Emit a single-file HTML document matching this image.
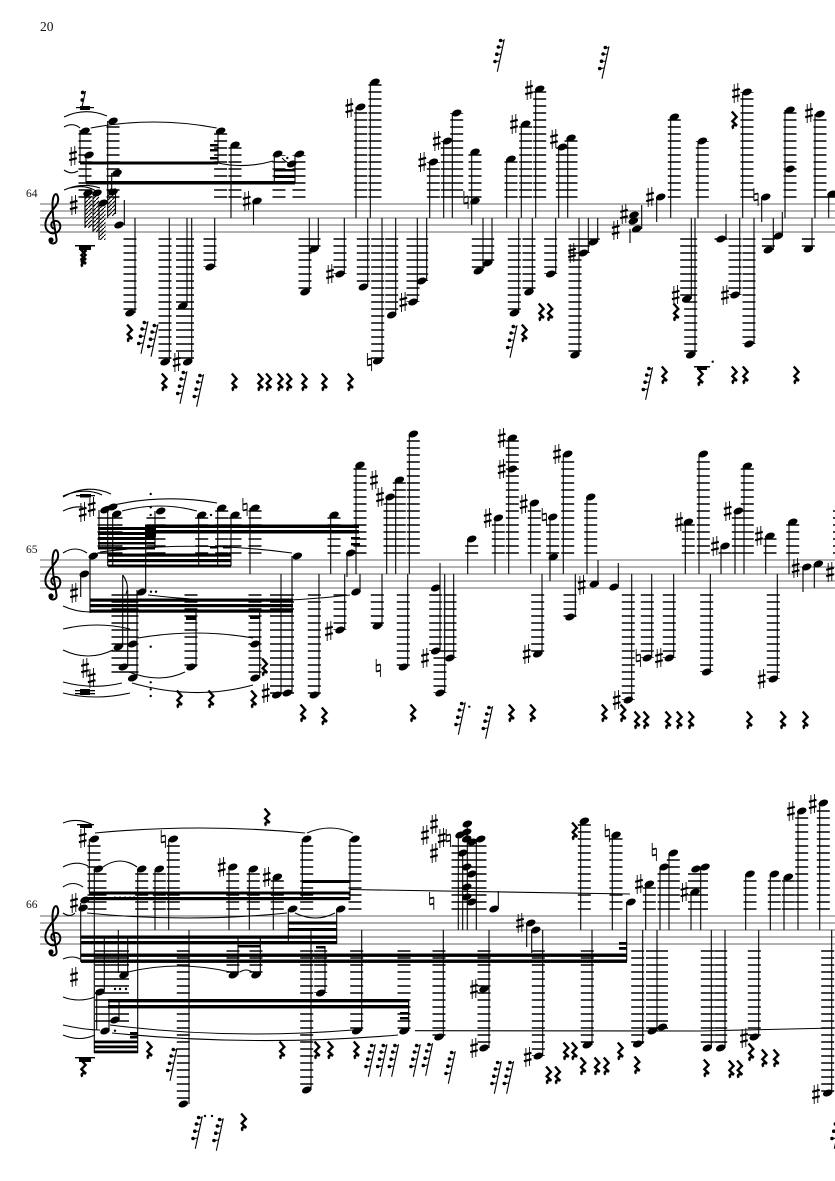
<!DOCTYPE html>
<html><head><meta charset="utf-8"><style>html,body{margin:0;padding:0;background:#fff}svg{display:block}text{font-family:"Liberation Serif",serif;fill:#111}</style></head><body>
<svg xmlns="http://www.w3.org/2000/svg" width="835" height="1181" viewBox="0 0 835 1181">
<defs>
<ellipse id="n" rx="5" ry="3.2" transform="rotate(-22)"/>
<g id="s" stroke="#000" fill="none"><path stroke-width=".9" d="M-1.8-9V10M1.8-10V9"/><path stroke-width="2.1" d="M-3.8-2.2L3.8-4.2M-3.8 4.2L3.8 2.2"/></g>
<g id="h" stroke="#000" fill="none"><path stroke-width=".9" d="M-2.1-9V3.6M2.1-3.6V9"/><path stroke-width="1.7" d="M-2.1-2.6L2.1-3.6M-2.1 3.6L2.1 2.6"/></g>
<path id="q" fill="none" stroke="#000" stroke-width="2.4" d="M-2.2-8.5L2.6-3L-1.6 1.2L3 5.6C0 4.6-2.6 5.6-.6 8.8"/>
<g id="r"><path stroke="#000" stroke-width="1.1" fill="none" d="M5.3-15.7L-1.7 16.7M5-14.5L1.5-13.5M3.5-8L-.5-7.5M1.8-1L-2-.5M.2 6L-3.8 6.7"/><circle cx="1.6" cy="-14.5" r="1.8"/><circle cx="-.6" cy="-8" r="1.8"/><circle cx="-2.2" cy="-.8" r="1.8"/><circle cx="-4" cy="6.5" r="1.8"/></g>
<g id="c"><path fill="none" stroke="#000" stroke-width="2" d="M2 4C-3 4-4-3 1-4C7-5 9 3 4 7C-3 11-9 5-8-2C-7-10 1-16 4-22C6-28 3-33 1-30C-2-26-1-15 0-5L3 14C4 19-3 20-4 16"/><circle cx="-2.5" cy="15" r="2.6"/></g>
<pattern id="p" width="4" height="4" patternUnits="userSpaceOnUse"><path d="M-1 5L5-1" stroke="#000" stroke-width="1.1"/></pattern>
</defs>
<text x="40" y="31" font-size="13.5">20</text>
<text x="26" y="197" font-size="11.5">64</text>
<text x="26" y="553" font-size="11.5">65</text>
<text x="26" y="908" font-size="11.5">66</text>

<path stroke="#666" stroke-width="1.1" fill="none" d="M40 204H835M40 211H835M40 218H835M40 225H835M40 232H835M40 560H835M40 567H835M40 574H835M40 581H835M40 588H835M40 916H835M40 923H835M40 930H835M40 937H835M40 944H835"/>
<use href="#c" x="53.5" y="225"/><use href="#c" x="53.5" y="581"/><use href="#c" x="53.5" y="937"/>

<g stroke="#000" stroke-width="13" stroke-dasharray="1.5 5.5" fill="none">
<path d="M85 197.7V132M113 197.7V122M279 197.7V155M299 197.7V155M235 197.7V147M220.6 197.7V133M360.7 197.7V107M375 197.7V82M433.3 197.7V162M447.3 197.7V141M456.7 197.7V113M475 197.7V152M511 197.7V159M525.7 197.7V124M539.7 197.7V89M562.3 197.7V147M571 197.7V138M674.3 197.7V117M702.3 197.7V141M747 197.7V92M790 197.7V110M820 197.7V114M832 197.7V196"/>
<path d="M130 238.3V313M165 238.3V362M210 238.3V267M305 238.3V292M314 238.3V249M340 238.3V274M363.3 238.3V287M377.7 238.3V361M391.7 238.3V315M413 238.3V302M421.7 238.3V281M478.3 238.3V271M487.7 238.3V263M514.3 238.3V313M529 238.3V292M550.7 238.3V274M583.3 238.3V253M575 238.3V355M593.3 238.3V242M686.7 238.3V299M690.7 238.3V355M721 238.3V240M735 238.3V295M749 238.3V344M768.3 238.3V250M808.3 238.3V249"/>
<path stroke-width="18" d="M185 238.3V362"/>
<path d="M201.7 553.7V517M221.7 553.7V510M235 553.7V517M255 553.7V510M334 553.7V517M360 553.7V467M390 553.7V499M399.3 553.7V482M413.3 553.7V436M471.7 553.7V541M498.3 553.7V520M512.3 553.7V440M534.3 553.7V505M552.7 553.7V519M567.7 553.7V456M590.7 553.7V499M688.3 553.7V524M703.3 553.7V456M725 553.7V548M738.3 553.7V513M747.3 553.7V468M770 553.7V538M792.7 553.7V524"/>
<path stroke-width="25" d="M110 553.7V512"/><path stroke-width="19" d="M156 553.7V512"/><path stroke-width="8" d="M837 553.7V505"/>
<path stroke-width="27" d="M125 594.3V678"/>
<path d="M191 594.3V667M255 594.3V678M314.3 594.3V695M340 594.3V630M377.3 594.3V626M403.3 594.3V667M435.7 594.3V651M440 650.3V693M450 594.3V658M537.7 594.3V654M570 594.3V617M628.3 594.3V700M647.3 594.3V658M669.3 594.3V658M706.7 594.3V672M773.3 594.3V679"/>
<path stroke-width="24" d="M282 594.3V694"/>
<path d="M94 909.7V841M100 909.7V871M141.7 909.7V871M159.3 909.7V871M173.3 909.7V841M232.7 909.7V869M253.3 909.7V871M277.3 909.7V879M306.7 909.7V841M355 909.7V841M584.3 909.7V823M616 909.7V837M649.3 909.7V886M664 909.7V869M673.3 909.7V855M750 909.7V876M774.3 909.7V876M788.3 909.7V879M801.7 909.7V813M823.3 909.7V805"/>
<path stroke-width="35" d="M469 909.7V840"/><path stroke-width="20" d="M698 909.7V869"/>
<path stroke-width="34" d="M112 950.3V1025"/><path stroke-width="22" d="M657 950.3V1030"/>
<path d="M183.3 950.3V1104M233 950.3V975M256 950.3V975M306.7 950.3V1090M320.7 950.3V993M356.7 950.3V1031M404 950.3V1031M439 950.3V1037M484 950.3V1048M538.3 950.3V1056M587.3 950.3V1045M637.7 950.3V1044M707.3 950.3V1048M720.7 950.3V1048M754.3 950.3V1037M827.7 950.3V1093"/>
</g>

<path stroke="#000" stroke-width="1.1" fill="none" d="M80 130V163M86 155V183M107.7 121V218M111.7 173V190M218 131V163M231 145V218M274.3 154V183M295 154V183M253.5 201V225M356 107V218M370.3 82V218M124.3 225V200M135 313V218M169.3 362V218M187 306V218M191.7 362V218M214.7 267V218M309.3 292V218M318.3 249V218M344.3 274V218M367.7 287V218M382 361V218M395.7 315V218M417.3 302V218M426.7 281V218M429.7 162V218M443.7 141V218M452.3 113V218M471.7 152V225M483 271V218M492 263V218M506.7 159V218M521.3 124V218M535.7 89V218M518.7 313V218M532.3 292V218M555.7 274V218M558.7 147V218M567.7 138V218M588.3 253V218M579 355V218M597.7 242V218M641.7 205V229M630 229V243M656.7 197V222M670.7 117V218M698 141V218M691.3 299V218M695 355V218M726 239V214M739.7 295V218M754 344V218M742.7 92V218M761.7 197V222M773.3 250V218M782.3 236V212M785 110V218M812 249V218M815 114V218M828.7 194V218
M85 194V228M93 196V232M99 206V240M115.5 190V214
M80.7 574V597M90 556V613M99 510V548M107.7 507V566M112.7 514V566M155 511V548M198.7 515V566M217.7 508V566M231 515V566M250 508V574M330.7 515V574M356 465V574M386.7 497V574M395.7 480V574M409.3 434V574M145.7 592V525M122.7 575V647M127.7 590V667M137 590V678M196 610V667M259.7 610V678M281 574V695M292 556V693M319 574V695M344.7 574V630M360 592V574M347 553V577M382 574V626M407.7 574V667M440 563V651M444.7 574V693M453.7 574V658M467.7 539V574M495 518V574M508.7 438V574M530.7 503V574M550 517V581M563.3 454V574M587 497V574M598 584V560M618.3 587V563M542 574V654M575.3 574V617M631.7 574V700M651.7 574V658M673.7 574V658M710.3 574V672M777.3 574V679M685.3 522V574M699 454V574M721 546V574M735 511V574M744 466V574M765.7 536V574M789 522V574M803 567V592M814.3 564V588
M89.3 839V893M94.3 869V1053M137.7 869V1053M155 869V930M168.7 839V930M229 867V930M249.3 869V930M273.3 877V930M302.3 839V900M350 839V900M288.3 909V944M336.7 909V944M80.7 903V962M104.3 938V990M118.3 930V973M127.7 937V973M109 1000V1031M96.7 990V1030M119 1000V1020M189 930V1104M238 938V975M260.3 938V975M311 930V1090M325 946V993M361.7 930V1031M408.7 1000V1031M458.3 835V930M462.7 853V930M467.3 824V930M476.3 840V930M498.3 909V891M526.7 923V947M531.7 930V953M542.7 930V1056M443.3 930V1037M489 930V1048M592 930V1045M580.7 821V930M612.3 835V930M626.7 902V961M645.7 884V930M660 867V930M669 853V930M691 892V930M700.7 867V930M745.7 874V930M770.3 874V930M784 877V930M798 811V930M819.7 803V930M642.7 930V1044M657 930V1031M711.3 930V1048M725 930V1048M758.7 930V1037M831.7 930V1093"/>
<g fill="url(#p)"><rect x="85" y="194" width="7" height="34"/><rect x="93" y="196" width="6" height="36"/><rect x="99" y="206" width="6.5" height="34"/><rect x="108" y="188" width="7.5" height="28"/></g>

<g fill="#000">
<rect x="80" y="161.5" width="138" height="3"/><rect x="86" y="181" width="209" height="3.5"/>
<rect x="210" y="144" width="8" height="2.5"/><rect x="210" y="149" width="8" height="2.5"/><rect x="210" y="157" width="8" height="2.5"/>
<rect x="274" y="169" width="21" height="2.5"/><rect x="274" y="175" width="21" height="3"/>
<rect x="76" y="107" width="18" height="1.2"/><rect x="80" y="106" width="10" height="4"/>
<rect x="75" y="245" width="20" height="1.5"/><rect x="79" y="246" width="12" height="4"/>
<rect x="694" y="366" width="16" height="1.5"/><rect x="697" y="367" width="10" height="3"/>
<rect x="90" y="598.5" width="203" height="3.2"/><rect x="90" y="604" width="203" height="3.2"/><rect x="90" y="609.5" width="203" height="3.2"/>
<rect x="108" y="553.5" width="123" height="3.2"/><rect x="108" y="559" width="123" height="3.2"/><rect x="108" y="564.5" width="123" height="3"/>
<rect x="98" y="527" width="57" height="3"/><rect x="98" y="532" width="57" height="3"/><rect x="98" y="537" width="57" height="3"/><rect x="98" y="542" width="57" height="2.5"/><rect x="98" y="547" width="57" height="2.5"/>
<rect x="145" y="525" width="11" height="12"/><rect x="145" y="524.5" width="214" height="3.5"/><rect x="145" y="530" width="214" height="3.5"/>
<rect x="210" y="546" width="8" height="2.5"/><rect x="223" y="546" width="8" height="2.5"/>
<rect x="351" y="537" width="9" height="2.5"/><rect x="351" y="543" width="9" height="2.5"/>
<rect x="186" y="616" width="10" height="4"/><rect x="250" y="616" width="10" height="3"/><rect x="76" y="495" width="19" height="1.3"/><rect x="80" y="494" width="11" height="3.5"/>
<rect x="75" y="690" width="20" height="1.3"/><rect x="75" y="693" width="20" height="1.3"/><rect x="80" y="689" width="10" height="6"/>
<rect x="89" y="891.5" width="261" height="3"/><rect x="89" y="897" width="261" height="3.2"/><rect x="302" y="880" width="48" height="3"/>
<rect x="288" y="921.5" width="49" height="3"/><rect x="288" y="928" width="49" height="3"/>
<rect x="81" y="935.5" width="256" height="3.2"/><rect x="81" y="941" width="256" height="3.2"/>
<rect x="238" y="945" width="22" height="2.5"/><rect x="316" y="946" width="9" height="2.5"/>
<rect x="81" y="953.5" width="546" height="3.4"/><rect x="81" y="959.5" width="546" height="3.4"/><rect x="619" y="942" width="8" height="2.8"/><rect x="619" y="947" width="8" height="2.8"/>
<rect x="108" y="999" width="301" height="3.4"/><rect x="108" y="1005" width="301" height="3.4"/><rect x="400" y="1012" width="9" height="2.5"/><rect x="400" y="1017" width="9" height="2.5"/>
<rect x="94" y="1040.5" width="44" height="2.8"/><rect x="94" y="1045.5" width="44" height="2.8"/><rect x="94" y="1050.5" width="44" height="2.8"/><rect x="130" y="1032" width="8" height="2.5"/><rect x="130" y="1036" width="8" height="2.5"/>
<rect x="77" y="824" width="17" height="1.3"/><rect x="80" y="825" width="12" height="3"/>
<rect x="75" y="1057" width="20" height="1.4"/><rect x="79" y="1058" width="12" height="4"/>
<circle cx="287.3" cy="158" r="1.2"/><circle cx="712.7" cy="361.7" r="1.2"/><circle cx="150.7" cy="494" r="1.2"/><circle cx="150.7" cy="507.3" r="1.2"/><circle cx="150.7" cy="515" r="1.2"/><circle cx="211" cy="515" r="1.2"/><circle cx="150.7" cy="646.7" r="1.2"/><circle cx="150.7" cy="682.3" r="1.2"/><circle cx="150.7" cy="689.3" r="1.2"/><circle cx="150.7" cy="696" r="1.2"/><circle cx="151" cy="591.7" r="1.2"/><circle cx="156" cy="591.7" r="1.2"/><circle cx="469.3" cy="706.7" r="1.2"/>
<circle cx="115" cy="989" r="1.2"/><circle cx="120" cy="989" r="1.2"/><circle cx="126" cy="989" r="1.2"/><circle cx="115" cy="1030.7" r="1.2"/><circle cx="115" cy="897.7" r="1.2"/><circle cx="120" cy="897.7" r="1.2"/><circle cx="125" cy="897.7" r="1.2"/><circle cx="130" cy="897.7" r="1.2"/><circle cx="134" cy="897.7" r="1.2"/><circle cx="205" cy="1116" r="1.2"/><circle cx="212" cy="1116" r="1.2"/>
<circle cx="82.7" cy="92.5" r="1.9"/><circle cx="82.3" cy="100" r="1.9"/>
</g>

<path fill="none" stroke="#000" stroke-width="1.1" d="M85.5 91L82 107M85 92L83 93M84 99L82 100M122.7 575Q130 585 126 594
M64 117Q85 107 107 116M64 127Q73 122 80 128M64 170Q71 175 78 171M64 190Q82 182 100 188M90.7 128Q154 116 216.7 128M218 163Q245 169 273 161M282 158Q288 164 293 165M70 188Q85 184 96 191
M63 497Q87 483 111 494M63 496Q85 487 102 495M63 511Q73 506 83 507M105 507Q161 493 217 503M122 511Q160 501 197 511M63 553Q75 545 87 553M100 552Q196 540 292 553M63 606Q76 612 90 612M63 629Q97 621 130 629M63 650Q88 662 113 650M63 682Q93 690 122 683M63 693Q95 701 130 693M138 638Q196 628 253 638M129 672Q160 684 185 672M132 683Q195 701 253 685M148 595Q249 607 350 595
M63 823Q78 817 93 825M95 833Q200 823 305 833M307 833Q330 823 353 833M63 867Q76 860 88 866M103 867Q120 855 137 867M63 887Q73 880 83 887M63 913Q70 918 75 913M87 913Q187 923 287 913M295 913Q316 923 335 913M63 959Q73 955 80 959M63 997Q79 1003 95 997M63 1025Q85 1030 100 1030M63 1035Q80 1042 95 1035M128 972Q179 960 230 972M240 972Q246 968 252 972M110 1025Q230 1040 353 1030M112 1033Q255 1047 398 1035
M350 889.5L630 894M415 1030.7L700 1031M700 1031L835 1028"/>

<g>
<use href="#n" x="85" y="131"/><use href="#n" x="89" y="155"/><use href="#n" x="113" y="121"/><use href="#n" x="117" y="173"/><use href="#n" x="88" y="193"/><use href="#n" x="97" y="193"/><use href="#n" x="103" y="203"/><use href="#n" x="113" y="192"/><use href="#n" x="220.6" y="131"/><use href="#n" x="235" y="145"/><use href="#n" x="277.7" y="154"/><use href="#n" x="299.5" y="154"/><use href="#n" x="291.7" y="164"/><use href="#n" x="257" y="201"/><use href="#n" x="360.7" y="107"/><use href="#n" x="375" y="82"/><use href="#n" x="119" y="225"/><use href="#n" x="130" y="313"/><use href="#n" x="165" y="362"/><use href="#n" x="182.7" y="306"/><use href="#n" x="187.7" y="362"/><use href="#n" x="210" y="267"/><use href="#n" x="305" y="292"/><use href="#n" x="314" y="249"/><use href="#n" x="340" y="274"/><use href="#n" x="363.3" y="287"/><use href="#n" x="377.7" y="361"/><use href="#n" x="391.7" y="315"/><use href="#n" x="413" y="302"/><use href="#n" x="421.7" y="281"/><use href="#n" x="433.3" y="162"/><use href="#n" x="447.3" y="141"/><use href="#n" x="456.7" y="113"/><use href="#n" x="475" y="201"/><use href="#n" x="475" y="152"/><use href="#n" x="478.3" y="271"/><use href="#n" x="487.7" y="263"/><use href="#n" x="511" y="159"/><use href="#n" x="525.7" y="124"/><use href="#n" x="539.7" y="89"/><use href="#n" x="514.3" y="313"/><use href="#n" x="529" y="292"/><use href="#n" x="550.7" y="274"/><use href="#n" x="562.3" y="147"/><use href="#n" x="571" y="138"/><use href="#n" x="583.3" y="253"/><use href="#n" x="575" y="355"/><use href="#n" x="593.3" y="242"/><use href="#n" x="634" y="215"/><use href="#n" x="633.3" y="221"/><use href="#n" x="636.7" y="229"/><use href="#n" x="660.7" y="197"/><use href="#n" x="674.3" y="117"/><use href="#n" x="702.3" y="141"/><use href="#n" x="686.7" y="299"/><use href="#n" x="690.7" y="355"/><use href="#n" x="721" y="239"/><use href="#n" x="735" y="295"/><use href="#n" x="749" y="344"/><use href="#n" x="747" y="92"/><use href="#n" x="765.7" y="197"/><use href="#n" x="768.3" y="250"/><use href="#n" x="778.3" y="236"/><use href="#n" x="790" y="110"/><use href="#n" x="790" y="169"/><use href="#n" x="820" y="114"/><use href="#n" x="808.3" y="249"/><use href="#n" x="832" y="194"/>

<use href="#n" x="84.3" y="574"/><use href="#n" x="93.3" y="556"/><use href="#n" x="105" y="510"/><use href="#n" x="112.7" y="507"/><use href="#n" x="116.7" y="514"/><use href="#n" x="160.7" y="511"/><use href="#n" x="201.7" y="515"/><use href="#n" x="221.7" y="508"/><use href="#n" x="235" y="515"/><use href="#n" x="255" y="508"/><use href="#n" x="334" y="515"/><use href="#n" x="360" y="465"/><use href="#n" x="390" y="497"/><use href="#n" x="399.3" y="480"/><use href="#n" x="413.3" y="434"/><use href="#n" x="141.7" y="592"/><use href="#n" x="297.3" y="556"/><use href="#n" x="118.3" y="647"/><use href="#n" x="123.3" y="667"/><use href="#n" x="132.7" y="644"/><use href="#n" x="132.7" y="678"/><use href="#n" x="191" y="667"/><use href="#n" x="255" y="644"/><use href="#n" x="255" y="678"/><use href="#n" x="276.7" y="695"/><use href="#n" x="287.3" y="693"/><use href="#n" x="314.3" y="695"/><use href="#n" x="340" y="630"/><use href="#n" x="356" y="592"/><use href="#n" x="350.7" y="553"/><use href="#n" x="377.3" y="626"/><use href="#n" x="403.3" y="667"/><use href="#n" x="435.7" y="588"/><use href="#n" x="435.7" y="651"/><use href="#n" x="440" y="693"/><use href="#n" x="450" y="658"/><use href="#n" x="471.7" y="539"/><use href="#n" x="498.3" y="518"/><use href="#n" x="512.3" y="438"/><use href="#n" x="512.3" y="469"/><use href="#n" x="534.3" y="503"/><use href="#n" x="552.7" y="517"/><use href="#n" x="553.3" y="557"/><use href="#n" x="567.7" y="454"/><use href="#n" x="590.7" y="497"/><use href="#n" x="594.3" y="584"/><use href="#n" x="614" y="587"/><use href="#n" x="537.7" y="654"/><use href="#n" x="570" y="617"/><use href="#n" x="628.3" y="700"/><use href="#n" x="647.3" y="658"/><use href="#n" x="669.3" y="658"/><use href="#n" x="706.7" y="672"/><use href="#n" x="773.3" y="679"/><use href="#n" x="688.3" y="522"/><use href="#n" x="703.3" y="454"/><use href="#n" x="725" y="546"/><use href="#n" x="738.3" y="511"/><use href="#n" x="747.3" y="466"/><use href="#n" x="770" y="536"/><use href="#n" x="792.7" y="522"/><use href="#n" x="806.7" y="567"/><use href="#n" x="818.3" y="564"/>

<use href="#n" x="94.3" y="839"/><use href="#n" x="98.3" y="869"/><use href="#n" x="141.7" y="869"/><use href="#n" x="159.3" y="869"/><use href="#n" x="173.3" y="839"/><use href="#n" x="232.7" y="867"/><use href="#n" x="253.3" y="869"/><use href="#n" x="277.3" y="877"/><use href="#n" x="306.7" y="839"/><use href="#n" x="355" y="839"/><use href="#n" x="292.7" y="909"/><use href="#n" x="340.7" y="909"/><use href="#n" x="85" y="900"/><use href="#n" x="83" y="908"/><use href="#n" x="124" y="975"/><use href="#n" x="100" y="992"/><use href="#n" x="105" y="1031"/><use href="#n" x="115" y="1020"/><use href="#n" x="183.3" y="1104"/><use href="#n" x="233.3" y="975"/><use href="#n" x="256" y="975"/><use href="#n" x="306.7" y="1090"/><use href="#n" x="320.7" y="993"/><use href="#n" x="356.7" y="1031"/><use href="#n" x="404" y="1031"/><use href="#n" x="467.3" y="824"/><use href="#n" x="460" y="835"/><use href="#n" x="466.7" y="832"/><use href="#n" x="466.7" y="839"/><use href="#n" x="472.3" y="842"/><use href="#n" x="480.7" y="839"/><use href="#n" x="462.7" y="853"/><use href="#n" x="466.7" y="867"/><use href="#n" x="471.7" y="874"/><use href="#n" x="466.7" y="887"/><use href="#n" x="466.7" y="897"/><use href="#n" x="471.7" y="902"/><use href="#n" x="494" y="909"/><use href="#n" x="530.7" y="923"/><use href="#n" x="535.7" y="930"/><use href="#n" x="538.3" y="1056"/><use href="#n" x="439" y="1037"/><use href="#n" x="484" y="989"/><use href="#n" x="484" y="1048"/><use href="#n" x="587.3" y="1045"/><use href="#n" x="584.3" y="821"/><use href="#n" x="616" y="835"/><use href="#n" x="631" y="902"/><use href="#n" x="649.3" y="884"/><use href="#n" x="664" y="867"/><use href="#n" x="673.3" y="853"/><use href="#n" x="695" y="892"/><use href="#n" x="696" y="869"/><use href="#n" x="705" y="867"/><use href="#n" x="750" y="874"/><use href="#n" x="774.3" y="874"/><use href="#n" x="788.3" y="877"/><use href="#n" x="801.7" y="811"/><use href="#n" x="823.3" y="803"/><use href="#n" x="637.7" y="1044"/><use href="#n" x="652.3" y="1031"/><use href="#n" x="662.3" y="1027"/><use href="#n" x="707.3" y="1048"/><use href="#n" x="720.7" y="1048"/><use href="#n" x="754.3" y="1037"/><use href="#n" x="827.7" y="1093"/>
</g>

<g>
<use href="#s" x="73.7" y="205"/><use href="#s" x="73" y="156"/><use href="#s" x="246.7" y="201"/><use href="#s" x="349.3" y="108"/><use href="#s" x="330" y="274"/><use href="#s" x="176.7" y="362"/><use href="#s" x="403.3" y="302"/><use href="#s" x="422.3" y="162"/><use href="#s" x="436.7" y="141"/><use href="#s" x="514" y="124"/><use href="#s" x="529" y="90"/><use href="#s" x="554" y="139"/><use href="#s" x="572" y="253"/><use href="#s" x="615.7" y="230"/><use href="#s" x="624" y="214"/><use href="#s" x="650" y="197"/><use href="#s" x="675.7" y="295"/><use href="#s" x="725" y="295"/><use href="#s" x="736" y="93"/><use href="#s" x="809" y="113"/>
<use href="#s" x="74" y="593"/><use href="#s" x="82.7" y="512"/><use href="#s" x="91.7" y="507"/><use href="#s" x="85" y="668"/><use href="#s" x="91.7" y="678"/><use href="#s" x="265.7" y="693"/><use href="#s" x="329" y="631"/><use href="#s" x="374" y="480"/><use href="#s" x="380" y="497"/><use href="#s" x="425" y="658"/><use href="#s" x="487.7" y="518"/><use href="#s" x="501.7" y="438"/><use href="#s" x="501.7" y="469"/><use href="#s" x="523.7" y="504"/><use href="#s" x="557" y="454"/><use href="#s" x="581.7" y="585"/><use href="#s" x="526.7" y="654"/><use href="#s" x="616.7" y="700"/><use href="#s" x="659" y="658"/><use href="#s" x="679" y="522"/><use href="#s" x="715" y="546"/><use href="#s" x="727.7" y="511"/><use href="#s" x="759" y="536"/><use href="#s" x="761.7" y="679"/><use href="#s" x="795.7" y="568"/><use href="#s" x="830" y="572"/>
<use href="#s" x="82.7" y="838"/><use href="#s" x="74" y="903"/><use href="#s" x="74" y="977"/><use href="#s" x="221.7" y="867"/><use href="#s" x="266.7" y="877"/><use href="#s" x="425" y="835"/><use href="#s" x="434" y="824"/><use href="#s" x="434" y="853"/><use href="#s" x="441.7" y="838"/><use href="#s" x="520" y="923"/><use href="#s" x="474" y="989"/><use href="#s" x="474" y="1048"/><use href="#s" x="527.7" y="1057"/><use href="#s" x="639" y="884"/><use href="#s" x="684.3" y="892"/><use href="#s" x="744" y="1038"/><use href="#s" x="791" y="811"/><use href="#s" x="812.7" y="804"/><use href="#s" x="816" y="1094"/>
<use href="#h" x="369.5" y="362"/><use href="#h" x="466" y="200"/><use href="#h" x="756" y="197"/><use href="#h" x="245" y="507"/><use href="#h" x="378.3" y="668"/><use href="#h" x="544.3" y="517"/><use href="#h" x="638.3" y="658"/><use href="#h" x="163.3" y="839"/><use href="#h" x="448.3" y="838"/><use href="#h" x="431.7" y="901"/><use href="#h" x="607.3" y="833"/><use href="#h" x="654.3" y="852"/>
</g>

<g>
<use href="#q" x="129.3" y="333"/><use href="#q" x="164" y="382"/><use href="#q" x="234" y="382"/><use href="#q" x="260" y="382"/><use href="#q" x="268.3" y="382"/><use href="#q" x="280" y="382"/><use href="#q" x="288.7" y="382"/><use href="#q" x="304" y="382"/><use href="#q" x="324" y="382"/><use href="#q" x="350" y="382"/><use href="#q" x="524" y="333"/><use href="#q" x="541" y="312"/><use href="#q" x="549.7" y="312"/><use href="#q" x="734" y="120"/><use href="#q" x="675.7" y="312"/><use href="#q" x="664" y="375"/><use href="#q" x="700" y="377"/><use href="#q" x="734" y="375"/><use href="#q" x="745" y="375"/><use href="#q" x="796" y="375"/><use href="#q" x="83" y="258"/><use href="#q" x="83" y="254"/>
<use href="#q" x="179" y="699"/><use href="#q" x="210.7" y="699"/><use href="#q" x="253.3" y="699"/><use href="#q" x="264.3" y="667"/><use href="#q" x="302.7" y="713"/><use href="#q" x="324" y="716"/><use href="#q" x="412.7" y="713"/><use href="#q" x="511" y="713"/><use href="#q" x="532.3" y="713"/><use href="#q" x="604" y="713"/><use href="#q" x="622.7" y="713"/><use href="#q" x="636.7" y="720"/><use href="#q" x="645.7" y="720"/><use href="#q" x="667.7" y="720"/><use href="#q" x="679" y="720"/><use href="#q" x="690.7" y="720"/><use href="#q" x="749" y="720"/><use href="#q" x="782.7" y="720"/><use href="#q" x="805" y="720"/>
<use href="#q" x="266.7" y="817"/><use href="#q" x="149" y="1050"/><use href="#q" x="281.7" y="1050"/><use href="#q" x="316.7" y="1050"/><use href="#q" x="330" y="1050"/><use href="#q" x="356" y="1050"/><use href="#q" x="243.3" y="1122"/><use href="#q" x="574.3" y="831"/><use href="#q" x="548.3" y="1075"/><use href="#q" x="557.3" y="1075"/><use href="#q" x="565.7" y="1051"/><use href="#q" x="574" y="1051"/><use href="#q" x="582.7" y="1066"/><use href="#q" x="596.7" y="1066"/><use href="#q" x="606" y="1066"/><use href="#q" x="620" y="1051"/><use href="#q" x="636.7" y="1065"/><use href="#q" x="706" y="1068"/><use href="#q" x="731" y="1069"/><use href="#q" x="739.3" y="1069"/><use href="#q" x="750.7" y="1052"/><use href="#q" x="764" y="1058"/><use href="#q" x="775.7" y="1058"/><use href="#q" x="83" y="1068"/>
<use href="#r" x="142.7" y="337"/><use href="#r" x="152.7" y="340"/><use href="#r" x="181.7" y="387"/><use href="#r" x="198.3" y="390"/><use href="#r" x="499" y="55"/><use href="#r" x="603.7" y="62"/><use href="#r" x="511.7" y="341"/><use href="#r" x="647.3" y="383"/>
<use href="#r" x="460" y="718"/><use href="#r" x="487.3" y="722"/>
<use href="#r" x="171.7" y="1064"/><use href="#r" x="370" y="1060"/><use href="#r" x="381.7" y="1060"/><use href="#r" x="393.3" y="1060"/><use href="#r" x="415" y="1060"/><use href="#r" x="427.3" y="1059"/><use href="#r" x="450" y="1067"/><use href="#r" x="496" y="1077"/><use href="#r" x="508.3" y="1077"/><use href="#r" x="197" y="1132"/><use href="#r" x="218" y="1134"/><use href="#r" x="836" y="1132"/>
</g>
</svg>
</body></html>
